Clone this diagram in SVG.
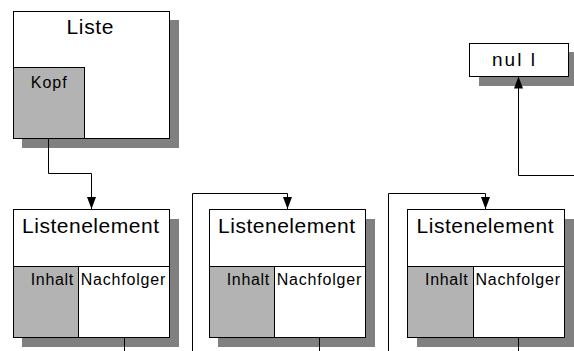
<svg xmlns="http://www.w3.org/2000/svg" width="574" height="351" viewBox="0 0 574 351">
<style>
.box{fill:#fff;stroke:#000;stroke-width:1}
.gray{fill:#b3b3b3;stroke:#000;stroke-width:1}
.shadow{fill:#808080}
.ln{fill:none;stroke:#000;stroke-width:1}
text{font-family:"Liberation Sans",Arial,sans-serif;fill:#000}
.t1{font-size:21px}
.t2{font-size:16px}
.t3{font-size:19px}
</style>
<defs>
<marker id="arr" markerUnits="userSpaceOnUse" markerWidth="12" markerHeight="9" viewBox="0 0 12 9" refX="12" refY="4.5" orient="auto">
<path d="M0,0 L12,4.5 L0,9 Z" fill="#000"/>
</marker>
</defs>
<g id="liste">
<rect class="shadow" x="22" y="20" width="157" height="128"/>
<rect class="box" x="13.5" y="11.5" width="156" height="127"/>
<rect class="gray" x="13.5" y="67.5" width="71" height="71"/>
<text class="t1" x="66.5" y="34" textLength="47" lengthAdjust="spacing">Liste</text>
<text class="t2" x="30.7" y="87.5" textLength="36" lengthAdjust="spacing">Kopf</text>
</g>
<g id="null">
<rect class="shadow" x="479" y="52" width="95" height="34"/>
<rect class="box" x="469.5" y="43.5" width="99" height="33"/>
<text class="t3" x="492" y="66" textLength="43" lengthAdjust="spacing">nul l</text>
</g>
<g id="element1">
<rect class="shadow" x="22" y="219" width="157" height="128"/>
<rect class="box" x="13.5" y="209.5" width="156" height="128"/>
<rect class="gray" x="13.5" y="266.5" width="65" height="71"/>
<line class="ln" x1="78.5" y1="266.5" x2="169.5" y2="266.5"/>
<text class="t1" x="22" y="233" textLength="137" lengthAdjust="spacing">Listenelement</text>
<text class="t2" x="30.7" y="285" textLength="42.6" lengthAdjust="spacing">Inhalt</text>
<text class="t2" x="80.7" y="285" textLength="84.6" lengthAdjust="spacing">Nachfolger</text>
</g>
<g id="element2">
<rect class="shadow" x="218" y="219" width="157" height="128"/>
<rect class="box" x="209.5" y="209.5" width="156" height="128"/>
<rect class="gray" x="209.5" y="266.5" width="65" height="71"/>
<line class="ln" x1="274.5" y1="266.5" x2="365.5" y2="266.5"/>
<text class="t1" x="218" y="233" textLength="137" lengthAdjust="spacing">Listenelement</text>
<text class="t2" x="226.7" y="285" textLength="42.6" lengthAdjust="spacing">Inhalt</text>
<text class="t2" x="276.7" y="285" textLength="84.6" lengthAdjust="spacing">Nachfolger</text>
</g>
<g id="element3">
<rect class="shadow" x="417" y="219" width="157" height="128"/>
<rect class="box" x="407.5" y="209.5" width="157" height="128"/>
<rect class="gray" x="407.5" y="266.5" width="66" height="71"/>
<line class="ln" x1="473.5" y1="266.5" x2="564.5" y2="266.5"/>
<text class="t1" x="416.5" y="233" textLength="137" lengthAdjust="spacing">Listenelement</text>
<text class="t2" x="425" y="285" textLength="42.6" lengthAdjust="spacing">Inhalt</text>
<text class="t2" x="475.5" y="285" textLength="84.6" lengthAdjust="spacing">Nachfolger</text>
</g>
<g id="connectors">
<path class="ln" d="M48.5 138.5 V173.5 H91.5 V209" marker-end="url(#arr)"/>
<path class="ln" d="M192.5 351 V193.5 H287.5 V209" marker-end="url(#arr)"/>
<path class="ln" d="M388.5 351 V193.5 H485.5 V209" marker-end="url(#arr)"/>
<path class="ln" d="M574 175.5 H518.5 V76.5" marker-end="url(#arr)"/>
<path class="ln" d="M124.5 337.5 V351"/>
<path class="ln" d="M319.5 337.5 V351"/>
<path class="ln" d="M518.5 337.5 V351"/>
</g>
</svg>
